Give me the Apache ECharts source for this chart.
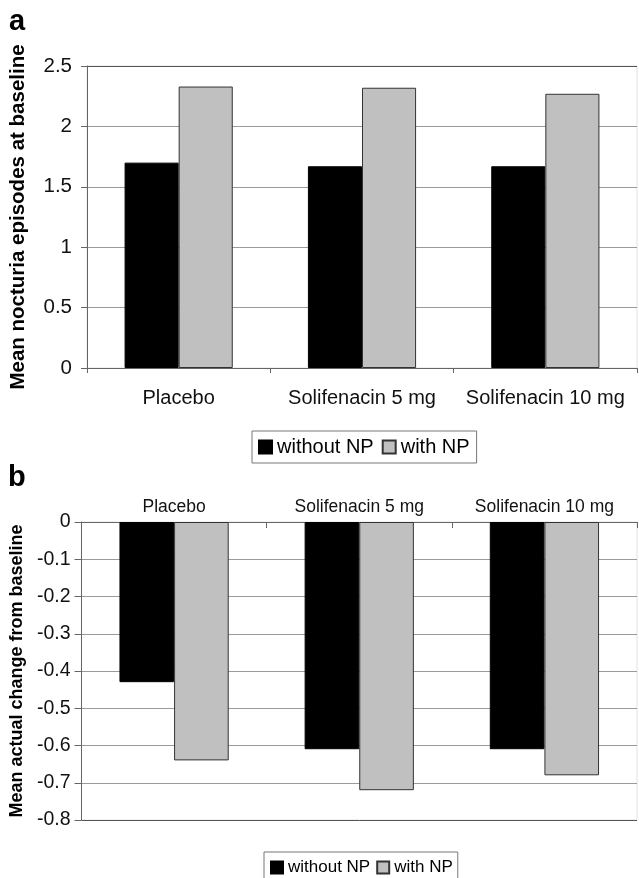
<!DOCTYPE html>
<html>
<head>
<meta charset="utf-8">
<script src="https://cdn.jsdelivr.net/npm/echarts@6/dist/echarts.min.js"></script>
<style>
html,body{margin:0;padding:0;background:#fff;}
#chart{width:639px;height:878px;}
</style>
</head>
<body>
<div id="chart"></div>
<script>
var categories = ['Placebo', 'Solifenacin 5 mg', 'Solifenacin 10 mg'];
var seriesNames = ['without NP', 'with NP'];
var baselineWithout = [1.70, 1.67, 1.67];
var baselineWith = [2.33, 2.32, 2.27];
var changeWithout = [-0.43, -0.61, -0.61];
var changeWith = [-0.64, -0.72, -0.68];
var ticksA = [0, 0.5, 1, 1.5, 2, 2.5];
var ticksB = [-0.8, -0.7, -0.6, -0.5, -0.4, -0.3, -0.2, -0.1, 0];

var FONT = 'Arial, "Liberation Sans", sans-serif';
var chart = echarts.init(document.getElementById('chart'), null, {renderer: 'canvas'});

var blackStyle = {color: '#000000', borderColor: '#000000', borderWidth: 1};
var grayStyle = {color: '#c0c0c0', borderColor: '#333333', borderWidth: 1};

function splitColors(n, firstDark, lastDark) {
  var arr = [];
  for (var i = 0; i < n; i++) arr.push('#9a9a9a');
  if (firstDark) arr[0] = '#555555';
  if (lastDark) arr[n - 1] = '#555555';
  return arr;
}

var option = {
  backgroundColor: '#ffffff',
  animation: false,
  textStyle: {fontFamily: FONT},
  graphic: [
    {type: 'text', left: 9, top: 7, style: {text: 'a', font: 'bold 29px ' + FONT, fill: '#000'}},
    {type: 'text', left: 8, top: 463, style: {text: 'b', font: 'bold 29px ' + FONT, fill: '#000'}}
  ],
  legend: [
    {
      data: seriesNames.map(function (n) { return {name: n, icon: 'rect'}; }),
      left: 252, top: 431,
      orient: 'horizontal',
      itemWidth: 13, itemHeight: 13, itemGap: 8,
      padding: [6, 7, 6, 6],
      borderColor: '#777', borderWidth: 1,
      textStyle: {fontSize: 20, color: '#000', fontFamily: FONT},
      selectedMode: false
    },
    {
      data: seriesNames.map(function (n) { return {name: n, icon: 'rect'}; }),
      left: 264, top: 852,
      orient: 'horizontal',
      itemWidth: 12, itemHeight: 12, itemGap: 6,
      padding: [7, 5, 7, 6],
      borderColor: '#777', borderWidth: 1,
      textStyle: {fontSize: 17, color: '#000', fontFamily: FONT},
      selectedMode: false
    }
  ],
  grid: [
    {left: 86, top: 66, width: 551, height: 302, show: true, borderColor: '#e2e2e2', borderWidth: 1, backgroundColor: 'transparent'},
    {left: 79, top: 522, width: 558, height: 298, show: true, borderColor: '#e2e2e2', borderWidth: 1, backgroundColor: 'transparent'}
  ],
  xAxis: [
    {
      type: 'category', gridIndex: 0, data: categories, position: 'bottom',
      axisLine: {lineStyle: {color: '#666', width: 1}},
      axisTick: {show: true, inside: false, length: 5, alignWithLabel: false, lineStyle: {color: '#666'}},
      axisLabel: {fontSize: 20, color: '#111', margin: 20, fontFamily: FONT, interval: 0},
      splitLine: {show: false}
    },
    {
      type: 'category', gridIndex: 1, data: categories, position: 'top',
      axisLine: {onZero: false, lineStyle: {color: '#666', width: 1}},
      axisTick: {show: true, inside: true, length: 6, alignWithLabel: false, lineStyle: {color: '#666'}},
      axisLabel: {fontSize: 17.5, color: '#111', margin: 6, fontFamily: FONT, interval: 0},
      splitLine: {show: false}
    }
  ],
  yAxis: [
    {
      type: 'value', gridIndex: 0, min: ticksA[0], max: ticksA[ticksA.length - 1], interval: 0.5,
      name: 'Mean nocturia episodes at baseline', nameLocation: 'middle', nameGap: 58, nameRotate: 90,
      nameTextStyle: {fontSize: 20.5, fontWeight: 'bold', color: '#000', fontFamily: FONT},
      axisLine: {show: true, lineStyle: {color: '#666', width: 1}},
      axisTick: {show: true, inside: false, length: 6, lineStyle: {color: '#666'}},
      axisLabel: {fontSize: 20.5, color: '#111', margin: 15, fontFamily: FONT,
        formatter: function (v) { return String(v); }},
      splitLine: {show: true, lineStyle: {color: splitColors(ticksA.length, false, true), width: 1}}
    },
    {
      type: 'value', gridIndex: 1, min: ticksB[0], max: ticksB[ticksB.length - 1], interval: 0.1,
      name: 'Mean actual change from baseline', nameLocation: 'middle', nameGap: 53, nameRotate: 90,
      nameTextStyle: {fontSize: 18, fontWeight: 'bold', color: '#000', fontFamily: FONT},
      axisLine: {show: true, lineStyle: {color: '#666', width: 1}},
      axisTick: {show: true, inside: false, length: 7, lineStyle: {color: '#666'}},
      axisLabel: {fontSize: 19.5, color: '#111', margin: 11, fontFamily: FONT,
        formatter: function (v) { return String(Math.round(v * 10) / 10); }},
      splitLine: {show: true, lineStyle: {color: splitColors(ticksB.length, true, false), width: 1}}
    }
  ],
  series: [
    {name: seriesNames[0], type: 'bar', xAxisIndex: 0, yAxisIndex: 0, data: baselineWithout,
      itemStyle: blackStyle, barGap: '0%', barCategoryGap: '41%'},
    {name: seriesNames[1], type: 'bar', xAxisIndex: 0, yAxisIndex: 0, data: baselineWith,
      itemStyle: grayStyle, barGap: '0%', barCategoryGap: '41%'},
    {name: seriesNames[0], type: 'bar', xAxisIndex: 1, yAxisIndex: 1, data: changeWithout,
      itemStyle: blackStyle, barGap: '0%', barCategoryGap: '41%'},
    {name: seriesNames[1], type: 'bar', xAxisIndex: 1, yAxisIndex: 1, data: changeWith,
      itemStyle: grayStyle, barGap: '0%', barCategoryGap: '41%'}
  ]
};
chart.setOption(option);
</script>
</body>
</html>
